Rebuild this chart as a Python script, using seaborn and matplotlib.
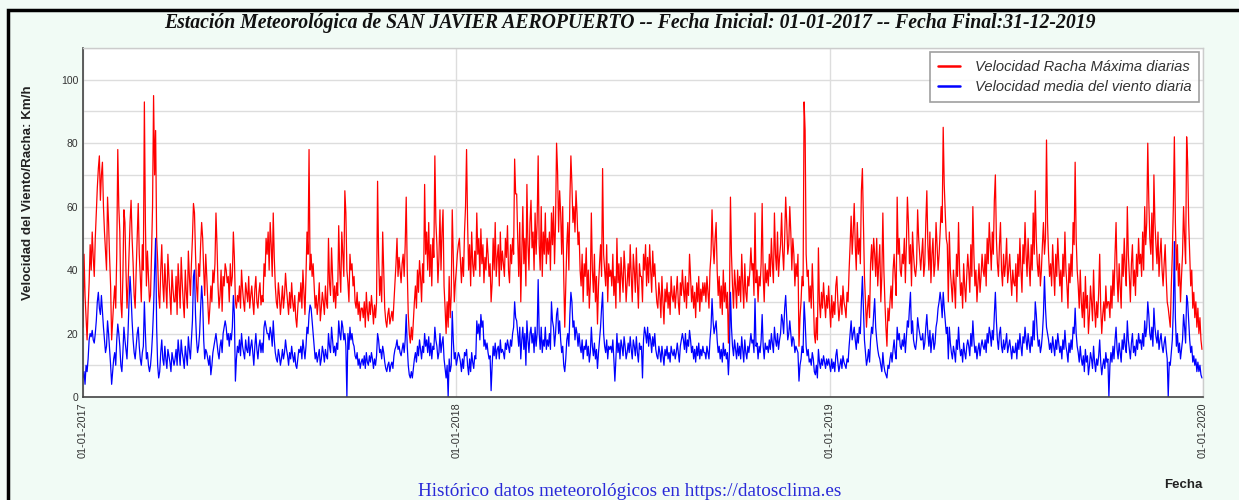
import numpy as np
import pandas as pd
import matplotlib
matplotlib.use("Agg")
import matplotlib.pyplot as plt
from matplotlib.patches import Rectangle
from matplotlib.lines import Line2D
import seaborn as sns

# ---------------- data (daily values, km/h) ----------------
gust_2017 = [
    22,45,32,25,18,28,36,48,40,52,44,38,50,58,66,72,76,62,70,74,60,52,46,40,63,55,44,35,18,24,30,
    35,28,45,78,60,52,30,25,38,59,55,40,28,35,45,55,62,50,42,32,28,40,50,61,45,38,30,48,
    40,93,55,35,46,38,30,32,45,60,95,70,84,50,43,32,28,40,48,36,30,42,35,28,45,38,32,26,40,34,30,
    30,38,26,42,35,28,44,36,30,25,40,33,28,46,38,32,42,50,61,58,45,35,30,42,38,48,55,50,40,32,
    45,38,30,23,28,35,30,40,36,42,58,48,35,28,32,40,27,38,35,42,40,36,38,30,42,35,38,52,44,30,28,
    32,30,35,28,40,34,30,27,36,33,30,38,28,32,35,30,26,34,38,30,28,33,36,29,32,30,42,38,50,45,
    52,40,55,48,38,58,44,35,30,28,36,32,26,30,35,28,32,39,34,30,26,33,28,36,30,27,32,25,22,28,33,
    30,36,28,40,33,26,38,52,45,78,40,45,38,42,35,28,32,26,30,36,24,28,33,30,26,35,30,28,50,36,32,
    47,38,30,35,28,36,32,54,40,33,52,45,38,65,58,40,36,30,45,40,42,35,38,30,28,33,26,30,24,28,
    28,25,30,22,33,27,24,30,26,32,28,23,29,25,30,68,45,32,38,30,52,40,28,24,22,26,28,23,25,27,24,
    30,36,42,50,38,44,40,36,42,45,38,48,63,40,26,20,17,22,18,24,30,35,28,40,33,43,38,30,42,36,
    67,45,52,40,55,38,48,35,50,44,76,55,48,36,44,59,40,52,59,35,28,20,30,22,38,25,32,59,45,30,36,
]
mean_2017 = [
    6,8,4,10,8,12,18,20,19,21,18,17,20,24,30,33,28,26,32,27,22,18,14,16,24,20,15,10,4,8,12,
    14,10,18,23,20,16,10,8,14,22,18,15,12,20,30,38,32,24,18,14,12,16,20,22,16,12,10,14,
    16,30,20,12,14,10,8,10,14,20,28,40,50,22,10,6,8,14,18,12,10,16,12,9,15,13,11,8,14,12,10,
    12,15,10,18,14,10,18,14,12,9,16,13,10,19,15,12,18,24,38,40,26,18,14,16,20,28,35,30,18,12,
    15,14,12,10,13,7,10,14,16,18,20,17,14,12,16,18,14,20,22,24,22,18,20,16,20,18,22,32,26,5,12,
    16,14,18,13,20,16,14,12,18,15,14,19,13,16,18,14,10,16,20,15,12,16,18,14,17,14,22,24,22,20,
    20,18,22,20,16,24,18,14,12,11,15,13,10,12,15,12,14,18,15,13,10,14,12,16,13,11,14,10,9,12,15,
    14,16,12,18,15,12,16,22,20,26,29,28,24,20,16,12,14,11,13,15,10,12,16,14,11,15,13,12,20,16,14,
    22,18,14,16,13,17,15,24,20,18,24,22,18,20,16,0,20,15,22,18,20,17,16,13,12,14,10,12,9,11,
    12,10,13,9,14,11,10,13,11,14,12,9,12,10,13,20,18,14,15,12,16,14,11,9,8,10,11,8,10,11,9,
    13,15,16,18,15,16,14,13,15,17,14,18,26,16,10,7,6,8,6,9,12,14,11,16,13,18,15,12,16,14,
    20,16,18,14,19,13,17,12,16,15,22,18,16,12,14,20,14,17,19,12,9,6,10,0,12,8,10,27,18,12,14,
]
gust_2018 = [
    40,45,48,50,43,36,44,38,52,60,78,55,40,48,35,52,42,38,46,40,58,45,50,38,53,42,48,36,44,40,50,
    45,38,42,30,36,50,40,55,38,44,48,35,52,40,46,42,38,50,44,54,40,36,48,42,50,45,75,64,
    64,50,38,55,30,45,60,42,50,35,67,48,40,55,62,47,52,40,58,45,55,76,48,40,60,38,52,45,58,42,50,
    45,52,40,58,48,60,42,55,80,71,52,65,58,45,60,38,22,35,48,55,40,62,76,67,55,60,52,65,58,48,
    52,40,35,45,30,42,38,47,32,40,28,36,58,40,33,45,30,38,23,35,42,48,38,72,45,40,35,48,30,42,38,
    40,35,45,32,38,28,50,36,42,30,44,38,33,46,40,30,36,42,35,48,38,30,45,40,33,47,36,28,42,38,
    38,30,45,40,48,35,44,36,48,40,33,46,38,42,35,30,28,36,32,25,38,30,23,34,30,36,28,33,26,38,32,
    30,35,28,33,38,30,26,36,32,40,34,30,38,28,36,32,45,38,30,35,28,33,25,36,30,38,27,34,30,36,32,
    36,30,38,33,28,40,45,59,48,42,50,55,40,32,38,28,35,26,40,30,36,28,33,17,30,63,45,35,28,40,
    35,28,40,32,38,30,45,36,28,42,33,30,38,35,40,47,40,42,32,58,36,40,30,38,35,42,61,38,30,42,36,
    40,35,45,38,50,42,36,58,45,40,52,38,44,48,58,46,40,50,63,55,45,48,60,52,40,50,45,35,42,38,
    45,16,25,30,38,35,93,84,45,38,40,30,35,28,42,32,20,17,25,18,47,30,25,33,28,36,30,25,32,28,35,
]
mean_2018 = [
    10,12,14,13,11,8,12,9,14,13,15,10,7,12,8,14,11,9,13,12,24,20,23,18,26,22,24,16,18,15,17,
    14,12,13,2,10,16,13,17,12,15,16,12,18,14,15,14,12,17,15,18,16,14,18,16,20,22,30,25,
    24,20,16,22,12,18,22,15,20,10,24,18,14,20,22,17,20,14,22,16,20,37,20,15,22,14,18,16,22,15,18,
    16,20,15,30,24,22,16,20,26,28,20,24,18,14,16,10,8,12,18,20,16,26,33,30,22,24,18,22,20,16,
    20,16,14,18,12,16,15,18,13,16,11,14,22,16,13,17,12,15,9,14,18,22,28,33,20,16,14,18,12,16,15,
    16,14,18,12,5,12,20,14,17,12,18,16,13,19,16,12,14,17,14,19,15,12,18,16,13,19,14,11,17,15,
    16,6,18,22,20,17,22,16,20,18,14,19,16,20,15,13,12,16,14,11,16,13,10,15,13,16,12,14,11,16,14,
    13,15,12,14,17,14,11,16,18,20,18,15,20,14,18,16,21,18,14,16,12,15,11,16,13,17,12,15,13,16,14,
    14,12,16,14,12,18,22,31,24,20,22,24,18,14,16,12,15,11,17,13,15,12,14,7,14,33,22,16,13,18,
    15,12,17,13,16,12,19,15,11,18,14,12,16,14,17,20,17,18,14,31,16,17,12,16,14,18,26,16,12,17,15,
    16,14,18,15,20,17,14,22,18,16,20,15,18,20,26,24,20,28,32,25,18,20,24,20,16,19,18,14,16,15,
    14,5,10,12,16,14,30,24,16,13,15,11,12,10,14,12,8,7,10,6,15,11,9,12,10,13,11,9,12,10,12,
]
gust_2019 = [
    28,22,32,25,30,26,35,38,30,24,28,32,26,35,30,28,25,33,30,40,48,57,45,52,61,48,40,55,45,50,42,
    65,72,55,38,30,22,28,32,25,42,48,40,50,45,38,50,35,42,48,30,38,58,40,30,22,16,28,24,
    30,35,28,40,45,38,32,63,45,50,40,38,45,42,50,36,48,63,55,42,48,35,52,45,40,38,42,59,50,45,40,
    45,50,38,42,55,65,48,40,52,36,45,50,38,42,55,48,40,45,52,60,55,85,67,58,50,48,30,52,40,35,
    30,40,35,28,45,38,55,40,32,36,28,42,35,30,38,45,40,33,48,38,60,45,35,40,30,36,42,33,38,45,40,
    38,45,35,50,42,55,48,40,52,45,62,70,50,42,38,48,55,40,35,45,38,42,50,36,40,45,38,32,40,36,
    35,42,30,45,38,50,40,33,48,42,55,45,38,50,42,35,48,40,58,45,65,50,42,38,45,35,40,48,55,45,50,
    81,55,45,38,42,35,48,40,32,45,38,50,42,35,40,30,45,38,52,40,35,28,42,36,45,38,55,48,74,50,40,
    35,28,40,30,25,33,22,38,28,32,20,26,35,30,24,40,28,22,30,25,33,45,28,20,26,30,24,35,28,30,
    30,25,35,28,40,32,45,55,38,30,42,35,28,45,38,50,40,35,60,45,38,30,42,48,35,40,32,45,38,50,42,
    45,38,52,40,60,48,55,80,62,50,45,58,40,70,55,48,42,52,38,45,50,40,35,42,48,38,30,28,25,22,
    35,45,60,82,55,40,48,35,42,30,38,45,60,50,42,82,74,55,45,35,40,28,33,25,30,22,28,20,25,18,15,
]
mean_2019 = [
    10,8,12,9,11,8,13,15,11,8,10,12,9,13,11,10,9,12,11,16,20,24,18,20,22,18,15,20,17,22,20,
    30,38,28,18,14,10,12,15,11,18,22,20,26,31,22,18,15,13,12,10,8,14,10,8,7,6,10,9,
    12,14,11,15,18,14,12,22,18,20,16,15,18,16,20,14,19,24,22,28,33,20,24,18,16,15,18,25,22,20,18,
    18,20,15,17,22,26,20,16,21,14,18,20,15,17,22,24,28,30,33,30,25,33,28,24,20,22,12,22,17,14,
    12,16,14,11,18,15,22,16,13,15,11,17,14,12,16,18,16,13,20,16,24,18,14,16,12,15,17,13,16,18,16,
    15,18,14,20,17,22,20,16,21,18,26,33,24,18,15,20,22,16,14,18,15,17,20,14,16,18,15,12,16,14,
    14,17,12,18,15,20,16,13,19,17,22,18,15,20,17,14,19,16,24,18,30,26,20,16,18,14,16,20,26,38,28,
    22,20,18,15,17,14,19,16,13,18,15,20,17,14,16,12,18,15,21,16,14,11,17,14,18,15,22,20,28,20,16,
    14,11,16,12,10,13,8,15,11,13,7,10,14,12,9,16,11,8,12,10,13,18,11,7,10,12,9,14,11,12,
    0,10,14,11,16,12,18,22,15,12,17,14,11,18,15,20,16,14,24,18,15,12,17,20,14,16,13,18,15,20,17,
    18,15,20,16,24,19,22,30,26,20,18,22,16,28,22,19,17,21,15,18,20,16,14,17,19,15,12,0,11,10,
    14,18,28,49,25,16,20,14,17,12,15,18,26,22,17,32,30,24,18,14,16,11,13,10,12,8,11,8,10,7,6,
]
year_starts = ["2017-01-01", "2018-01-01", "2019-01-01"]
x_tick_dates = ["2017-01-01", "2018-01-01", "2019-01-01", "2020-01-01"]
series_names = ["Velocidad Racha Máxima diarias", "Velocidad media del viento diaria"]
series_colors = ["#ff0000", "#0000ff"]

title = ("Estación Meteorológica de SAN JAVIER AEROPUERTO -- Fecha Inicial: 01-01-2017 "
         "-- Fecha Final:31-12-2019")

# ---------------- build frame ----------------
frames = []
for start, g, m in zip(year_starts, [gust_2017, gust_2018, gust_2019],
                       [mean_2017, mean_2018, mean_2019]):
    d_g = pd.date_range(start, periods=len(g), freq="D")
    d_m = pd.date_range(start, periods=len(m), freq="D")
    frames.append(pd.DataFrame({"fecha": d_g, "valor": g, "serie": series_names[0]}))
    frames.append(pd.DataFrame({"fecha": d_m, "valor": m, "serie": series_names[1]}))
df = pd.concat(frames, ignore_index=True)

# ---------------- plot ----------------
sns.set_style("white")
plt.rcParams["font.family"] = ["Liberation Sans", "DejaVu Sans"]

W, H = 1239, 500
fig = plt.figure(figsize=(W / 100, H / 100), dpi=100, facecolor="#f1fbf5")
ax = fig.add_axes([83 / W, 1 - 397 / H, (1203 - 83) / W, (397 - 48) / H])
ax.set_facecolor("white")

sns.lineplot(data=df, x="fecha", y="valor", hue="serie", hue_order=series_names,
             palette=dict(zip(series_names, series_colors)), estimator=None,
             linewidth=0.9, ax=ax, legend=False)

ax.set_ylim(0, 110)
ax.set_xlim(pd.Timestamp(x_tick_dates[0]), pd.Timestamp(x_tick_dates[-1]))
ax.set_yticks(np.arange(0, 101, 20))
ax.set_yticks(np.arange(0, 111, 10), minor=True)
xt = [pd.Timestamp(t) for t in x_tick_dates]
ax.set_xticks(xt)
ax.set_xticklabels([t.strftime("%d-%m-%Y") for t in xt], rotation=90, fontsize=7.8, color="#333333")
ax.tick_params(axis="y", which="both", direction="in", length=4, labelsize=7.5, colors="#333333")
ax.tick_params(axis="x", direction="in", length=4, pad=4)
ax.grid(True, which="both", axis="y", color="#dddddd", linewidth=1)
ax.grid(True, which="major", axis="x", color="#dddddd", linewidth=1)
ax.set_axisbelow(True)
ax.set_xlabel("")
ax.set_ylabel("")
for s in ["left", "bottom"]:
    ax.spines[s].set_color("#444444")
    ax.spines[s].set_linewidth(1.2)
for s in ["top", "right"]:
    ax.spines[s].set_color("#cccccc")
    ax.spines[s].set_linewidth(1)

handles = [Line2D([0], [0], color=c, lw=1.8) for c in series_colors]
leg = ax.legend(handles, series_names, loc="upper right", frameon=True, fancybox=False,
                edgecolor="#888888", borderaxespad=0.25, handlelength=1.5, handletextpad=1.0,
                borderpad=0.55, prop={"style": "italic", "size": 10.6}, labelspacing=0.42)
leg.get_frame().set_linewidth(1.2)
for t in leg.get_texts():
    t.set_color("#333333")

# texts
fig.text(630 / W, 1 - 23 / H, title, ha="center", va="center", family="Liberation Serif",
         style="italic", weight="bold", size=14.2, color="#111111")
fig.text(28 / W, 1 - 193 / H, "Velocidad del Viento/Racha: Km/h", rotation=90,
         ha="center", va="center", weight="bold", size=9.6, color="#222222")
fig.text(1183 / W, 1 - 485 / H, "Fecha", ha="center", va="center", weight="bold",
         size=9.5, color="#222222")
fig.text(630 / W, 1 - 492 / H, "Histórico datos meteorológicos en https://datosclima.es",
         ha="center", va="center", family="Liberation Serif", size=13.8, color="#2a2ad8")

# outer frame
fig.patches.append(Rectangle((8 / W, -0.1), 1.2, 1 - 10 / H + 0.1, transform=fig.transFigure,
                             fill=False, edgecolor="black", linewidth=2.5, clip_on=False))

fig.savefig("out.png", dpi=100, facecolor=fig.get_facecolor())
